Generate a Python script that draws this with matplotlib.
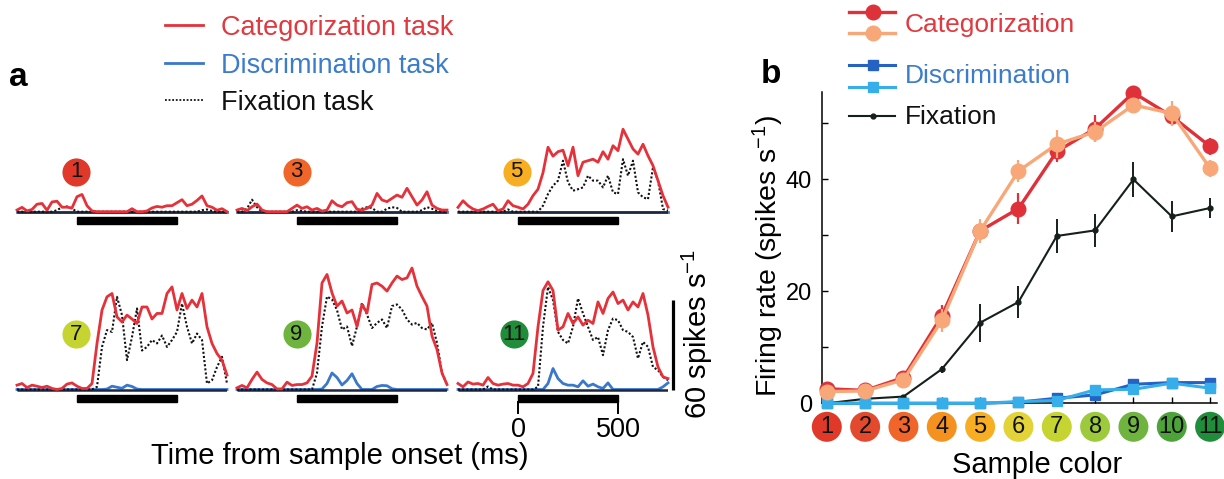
import numpy as np
import matplotlib
matplotlib.use("Agg")
import matplotlib.pyplot as plt
from matplotlib.patches import Rectangle
from matplotlib.lines import Line2D

plt.rcParams['font.family'] = ['Liberation Sans', 'DejaVu Sans']
plt.rcParams['mathtext.fontset'] = 'custom'
plt.rcParams['mathtext.rm'] = 'Liberation Sans'
plt.rcParams['mathtext.it'] = 'Liberation Sans:italic'
plt.rcParams['mathtext.bf'] = 'Liberation Sans:bold'

# ---------------- data: panel a (time courses, spikes/s) ----------------
time_ms = np.arange(-300, 751, 25)

p1_cat = [1.1, 2.9, 0.5, 1.5, 5, 5.5, 1, 6.5, 7, 3, 3, 2.5, 10, 11.5, 4, 0.5, 0, 0, 0, 0, 0, 0, 0,
          2, 0, 0, 0.5, 2.5, 3.5, 3, 4, 4, 6, 8, 4, 5, 7.5, 10.5, 4, 3, 1, 2, 0]
p1_fix = [0, 0, 0, 0, 0, 0, 0, 0, 1, 3, 3.5, 2, 0, 0, 0, 0, 0, 0, 0, 0, 0, 0, 0,
          0, 0, 0, 0, 0, 0, 0, 0, 0, 0, 0, 0, 0, 0, 1, 1.5, 0.5, 0, 0, 0]
p1_dis = [0, 0, 0, 0, 0, 0, 0, 0, 0, 0, 0, 0, 0, 0, 0, 0, 0, 0, 0, 0, 0, 0, 0,
          0, 0, 0, 0, 0, 0, 0, 0, 0, 0, 0, 0, 0, 0, 0, 0, 0, 0, 0, 0]

p3_cat = [1.1, 2.2, 0.7, 3.3, 5.1, 1.1, 0, 0, 0, 0, 0, 2.2, 4.4, 2.2, 3.3, 1.1, 2.2, 0.4, 1.1,
          7.3, 4.4, 3.3, 6, 6.7, 1.6, 1.1, 2.2, 4.4, 12.2, 7.8, 6.7, 8.9, 11.1, 9.6, 15.6, 10,
          4.4, 7.8, 13.3, 4.4, 2.2, 1.1, 1.1]
p3_fix = [0, 0, 2, 8, 3, 0, 0, 0, 0, 0, 0, 0, 1, 0.5, 0, 0, 0, 0, 0, 0, 0, 0, 0, 0, 0,
          2, 3, 2.5, 0, 0, 2, 3, 2.5, 0, 0, 0, 0, 1, 3, 2, 0.5, 0, 0]
p3_dis = [0, 0, 0, 0, 0, 0, 0, 0, 0, 0, 0, 0, 0, 0, 0, 0, 0, 0, 0, 0, 0, 0, 0,
          0, 0, 0, 0, 0, 0, 0, 0, 0, 0, 0, 0, 0, 0, 0, 0, 0, 0, 0, 0]

p5_cat = [2.9, 7.3, 4, 1.8, 0.7, 1.8, 3.5, 5, 0.7, 1.8, 7.3, 4, 3, 1.8, 5, 10.7, 15, 26, 43, 37,
          40, 41, 30.7, 43, 24, 33, 34, 35, 33, 40, 35, 44, 40.7, 55, 48.4, 41.8, 38.4, 45, 37.3,
          30.7, 20.7, 10.7, 3]
p5_fix = [0, 0, 0, 0, 0, 0, 0, 0, 0, 0, 1.5, 0, 0, 0, 0, 0, 0,
          4, 11.8, 17.3, 20.7, 34, 19.6, 14, 15, 16.2, 24, 20.7, 20.7, 16.2, 24, 12.9, 11.8, 35,
          24, 34, 12.9, 9.6, 8.4, 29.6, 20.7, 1.8, 0.7]
p5_dis = [0, 0, 0, 0, 0, 0, 0, 0, 0, 0, 0, 0, 0, 0, 0, 0, 0, 0, 0, 0, 0, 0, 0,
          0, 0, 0, 0, 0, 0, 0, 0, 0, 0, 0, 0, 0, 0, 0, 0, 0, 0, 0, 0]

p7_cat = [2.9, 4, 1.3, 2.9, 2.2, 1.3, 2.2, 0.7, 0, 0.7, 3.6, 4.4, 2.2, 0.7, 0.7, 4, 30.7, 52.9,
          61.8, 64, 48.4, 45, 49.6, 47, 44, 55, 55, 47, 50.7, 50.7, 64, 68.4, 53, 64, 54, 59.6,
          55, 64, 41.8, 30.7, 24, 19.6, 9.6]
p7_fix = [0, 0, 0, 0, 0, 0, 0, 0, 0, 0, 0, 0, 0, 0, 0, 0, 1.8,
          28.4, 39.6, 38.4, 61.8, 49.6, 19.6, 35, 54, 26, 28.4, 33, 30.7, 36, 28.4, 33, 38.4,
          57.3, 41.8, 30.7, 37.3, 33, 4, 6.2, 15, 21.8, 4]
p7_dis = [0, 0, 0, 0, 0, 0, 0, 0, 0, 0, 0, 0, 0, 0, 0, 0, 0, 0, 0.3, 2.2, 1.5, 0.8, 2.9,
          2, 0.3, 0, 0, 0, 0, 0, 0, 0, 0, 0, 0, 0, 0, 0, 0, 0, 0, 0, 0]

p9_cat = [1.1, 2.7, 1.1, 6.7, 11.6, 6.7, 4.4, 3.3, 0.4, 0.4, 4.9, 2.7, 3.3, 3.3, 4.4, 8.9, 31,
          71, 76.7, 64.4, 55.6, 59, 51, 53, 42, 56.7, 51, 70, 71, 68.9, 65.6, 71, 75.6, 73.3,
          74.4, 81, 68.9, 62, 55.6, 35.6, 26.7, 11, 3.3]
p9_fix = [0, 0, 0, 0, 0, 0, 0, 0, 0, 0, 0, 0, 0, 0, 0, 0,
          11, 42, 62, 60, 53, 40, 42, 29, 42, 57.8, 50, 41, 44.4, 46.7, 41, 55.6, 56.7, 53.3,
          46.7, 43.3, 44.4, 41, 40, 44.4, 31, 11, 3.3]
p9_dis = [0, 0, 0, 0, 0, 0, 0, 0, 0, 0, 0, 0, 0, 0, 0, 0, 0, 0.3, 4, 11, 8, 3, 6, 10.5,
          4, 0, 0, 0, 2, 2.7, 2.5, 0.5, 0, 0, 0, 0, 0, 0, 0, 0, 0, 0, 0]

p11_cat = [4, 1.8, 5, 3.6, 4, 2.9, 8, 4, 2.9, 3.6, 4, 2.9, 2.9, 1.8, 4, 10.7, 41.8, 66, 71.8,
           66, 39.6, 41.8, 50.7, 44, 48.4, 42.9, 46.2, 44, 58.4, 50.7, 60.7, 65, 57.3, 59.6,
           53, 58.4, 55, 64, 49.6, 28.4, 15, 8.4, 7.3]
p11_fix = [0, 0, 0, 0, 0, 0, 2, 0, 0, 0, 0, 0, 0, 0, 0, 0, 1.8,
           41.8, 68.4, 59.6, 38.4, 33, 30.7, 41.8, 60.7, 50.7, 41.8, 33, 35, 22.9, 39.6, 47.3,
           46.2, 39.6, 38.4, 35, 20.7, 31.8, 28.4, 15, 12.9, 8.4, 6.2]
p11_dis = [0, 0, 0, 0, 0, 0, 0, 0, 0, 0, 0, 0, 0, 0, 0, 0, 0, 0, 4, 14, 7.3, 4, 2.9, 2.9,
           1.8, 5.8, 2.2, 3.6, 1.8, 0.7, 4.4, 0, 0, 0, 0, 0, 0, 0, 0, 0, 0, 1.8, 4.4]

panel_numbers = [1, 3, 5, 7, 9, 11]
panel_cat = [p1_cat, p3_cat, p5_cat, p7_cat, p9_cat, p11_cat]
panel_fix = [p1_fix, p3_fix, p5_fix, p7_fix, p9_fix, p11_fix]
panel_dis = [p1_dis, p3_dis, p5_dis, p7_dis, p9_dis, p11_dis]

stim_on, stim_off = 0, 500
scale_bar = 60

# ---------------- data: panel b ----------------
sample_colors = [1, 2, 3, 4, 5, 6, 7, 8, 9, 10, 11]
cat_dark = [2.6, 2.3, 4.6, 15.6, 30.8, 34.8, 45.0, 49.1, 55.5, 51.3, 45.9]
cat_dark_err = [0.5, 0.4, 0.8, 2.0, 1.5, 2.8, 1.8, 2.4, 1.2, 1.5, 1.5]
cat_light = [2.1, 2.2, 4.2, 14.8, 30.8, 41.5, 46.3, 48.5, 53.3, 51.8, 42.0]
cat_light_err = [0.4, 0.4, 0.8, 2.0, 2.2, 1.9, 2.5, 1.8, 1.0, 2.3, 1.5]
dis_dark = [0, 0, 0, 0, 0, 0.2, 0.9, 1.5, 3.4, 3.7, 3.7]
dis_light = [0, 0, 0, 0, 0, 0.3, 0.5, 2.4, 2.5, 3.6, 2.7]
dis_err = [0, 0, 0, 0, 0, 0.2, 0.3, 0.6, 0.5, 0.9, 0.6]
fix_rate = [0.0, 0.8, 1.2, 6.1, 14.4, 18.1, 29.9, 30.9, 40.0, 33.4, 34.9]
fix_err = [0.1, 0.2, 0.3, 0.6, 3.4, 2.8, 3.1, 2.9, 3.1, 2.8, 1.7]
y_ticks = [0, 10, 20, 30, 40, 50]
y_ticklabels = ['0', '', '20', '', '40', '']

circle_colors = ['#e0392a', '#e34a2d', '#f0662a', '#f5921f', '#f7ae22', '#e3d338',
                 '#c5d430', '#9dca3c', '#6fb43f', '#4ea23a', '#1f8d3a']

# ---------------- colours ----------------
RED = '#e5323a'
BLUE = '#3a78cc'
RED_TXT = '#e0393f'
BLUE_TXT = '#3b7ccb'
DARKRED = '#de3139'
SALMON = '#f8a878'
DBLUE = '#2463c4'
LBLUE = '#35aee9'
FIXC = '#16201a'

W, H = 1224, 479
fig = plt.figure(figsize=(W / 100, H / 100), dpi=100)


def fx(px):
    return px / W


def fy(py):
    return 1 - py / H


def ftext(x, y, s, **kw):
    return fig.text(fx(x), fy(y), s, **kw)


def fline(xs, ys, **kw):
    ln = Line2D([fx(v) for v in xs], [fy(v) for v in ys], transform=fig.transFigure, **kw)
    fig.add_artist(ln)
    return ln


# ---------------- panel a ----------------
onsets = [77, 297, 518, 77, 297, 518]
baselines = [211.7, 211.7, 211.7, 389.5, 389.5, 389.5]
circ_t = [-5, -2, -7, -5, -2, -20]
circ_y = [26.5, 26.5, 26.5, 37, 37, 37]
PXT = 0.2   # px per ms
PXY = 1.5   # px per spike/s
YLO, YHI = -12, 85

axes_a = []
for k, num in enumerate(panel_numbers):
    ox, by = onsets[k], baselines[k]
    left = ox - 300 * PXT
    bottom_px = by - YLO * PXY
    height_px = (YHI - YLO) * PXY
    ax = fig.add_axes([fx(left), fy(bottom_px), 1050 * PXT / W, height_px / H])
    ax.set_xlim(-300, 750)
    ax.set_ylim(YLO, YHI)
    ax.axis('off')
    ax.plot(time_ms, panel_dis[k], color=BLUE, lw=2.0, zorder=2, clip_on=False)
    ax.plot([-300, 750], [0, 0], color='#1d2740', lw=1.8, zorder=2.5, solid_capstyle='butt')
    ax.plot(time_ms, panel_fix[k], color='#111111', lw=1.5, ls=(0, (1, 1)), zorder=3, clip_on=False)
    ax.plot(time_ms, panel_cat[k], color=RED, lw=2.0, zorder=4, clip_on=False)
    ax.add_patch(Rectangle((stim_on, -8.4), stim_off - stim_on, 4.8, color='black',
                           clip_on=False, zorder=5))
    ax.scatter([circ_t[k]], [circ_y[k]], s=410, color=circle_colors[num - 1], zorder=6,
               clip_on=False, linewidths=0)
    ax.text(circ_t[k], circ_y[k], str(num), ha='center', va='center', fontsize=16,
            color='#111111', zorder=7)
    axes_a.append(ax)

ax11 = axes_a[-1]
for t, lab in [(stim_on, '0'), (stim_off, '500')]:
    ax11.plot([t, t], [-8.4, -15.7], color='black', lw=1.4, clip_on=False)
    ax11.text(t, -31.5, lab, ha='center', va='baseline', fontsize=19.5)
ax11.plot([776, 776], [0, scale_bar], color='black', lw=2.3, clip_on=False,
          solid_capstyle='butt')
ax11.text(897, 37, '60 spikes s$^{-1}$', rotation=90, ha='center', va='center', fontsize=21)

ftext(340, 464, 'Time from sample onset (ms)', ha='center', va='baseline', fontsize=21)

# legend a
fline([165, 203], [25, 25], color=RED, lw=2.0)
fline([165, 203], [63.3, 63.3], color=BLUE, lw=2.0)
fline([165, 203], [100, 100], color='#111111', lw=1.3, ls=(0, (1, 1)))
ftext(221, 35, 'Categorization task', color=RED_TXT, fontsize=19.5, va='baseline')
ftext(221, 72.7, 'Discrimination task', color=BLUE_TXT, fontsize=19.5, va='baseline')
ftext(221, 110, 'Fixation task', color='#111111', fontsize=19.5, va='baseline')

ftext(9, 86, 'a', fontsize=24, fontweight='bold', va='baseline')
ftext(761, 83.3, 'b', fontsize=24, fontweight='bold', va='baseline')

# ---------------- panel b ----------------
bl, br, bb, bt = 821.7, 1217, 403.3, 91.7
axb = fig.add_axes([fx(bl), fy(bb), (br - bl) / W, (bb - bt) / H])
axb.set_xlim(0.867, 11.18)
axb.set_ylim(0, 55.68)
for s in ['top', 'right']:
    axb.spines[s].set_visible(False)
for s in ['left', 'bottom']:
    axb.spines[s].set_linewidth(1.1)
axb.set_yticks(y_ticks)
axb.set_yticklabels(y_ticklabels)
axb.set_xticks(sample_colors)
axb.set_xticklabels([])
axb.tick_params(axis='both', direction='in', length=4, width=1.0, labelsize=17, pad=7)

axb.errorbar(sample_colors, fix_rate, yerr=fix_err, color=FIXC, lw=1.5, elinewidth=1.4,
             marker='o', ms=3.5, capsize=0, clip_on=False, zorder=3)
axb.errorbar(sample_colors, dis_dark, yerr=dis_err, color=DBLUE, lw=2.2, elinewidth=1.5,
             marker='s', ms=6.5, capsize=0, clip_on=False, zorder=4)
axb.errorbar(sample_colors, dis_light, yerr=dis_err, color=LBLUE, lw=2.2, elinewidth=1.5,
             marker='s', ms=6.5, capsize=0, clip_on=False, zorder=5)
axb.errorbar(sample_colors, cat_dark, yerr=cat_dark_err, color=DARKRED, lw=2.4, elinewidth=1.6,
             marker='o', ms=10.5, capsize=0, clip_on=False, zorder=6)
axb.errorbar(sample_colors, cat_light, yerr=cat_light_err, color=SALMON, lw=2.4,
             elinewidth=1.6, marker='o', ms=10.5, capsize=0, clip_on=False, zorder=7)

circ_yb = -4.2
axb.scatter(sample_colors, [circ_yb] * len(sample_colors), s=466, c=circle_colors,
            clip_on=False, linewidths=0, zorder=8)
for xi in sample_colors:
    axb.text(xi, circ_yb, str(xi), ha='center', va='center', fontsize=17, color='#111111',
             zorder=9, clip_on=False)

ftext(1037, 473, 'Sample color', ha='center', va='baseline', fontsize=21)
ftext(768, 256, 'Firing rate (spikes s$^{-1}$)', rotation=90, ha='center', va='center',
      fontsize=20.5)

# legend b
fline([849, 873, 895], [11.7] * 3, color=DARKRED, lw=2.4, marker='o', ms=10.5, markevery=[1])
fline([849, 873, 895], [33.3] * 3, color=SALMON, lw=2.4, marker='o', ms=10.5, markevery=[1])
fline([849, 873, 895], [65] * 3, color=DBLUE, lw=2.2, marker='s', ms=6.5, markevery=[1])
fline([849, 873, 895], [87.3] * 3, color=LBLUE, lw=2.2, marker='s', ms=6.5, markevery=[1])
fline([849, 873, 895], [116] * 3, color=FIXC, lw=1.5, marker='o', ms=3.5, markevery=[1])
ftext(905, 31.7, 'Categorization', color=RED_TXT, fontsize=19, va='baseline')
ftext(905, 83.3, 'Discrimination', color=BLUE_TXT, fontsize=19, va='baseline')
ftext(905, 124, 'Fixation', color='#111111', fontsize=19, va='baseline')

fig.savefig('out.png', dpi=100)
